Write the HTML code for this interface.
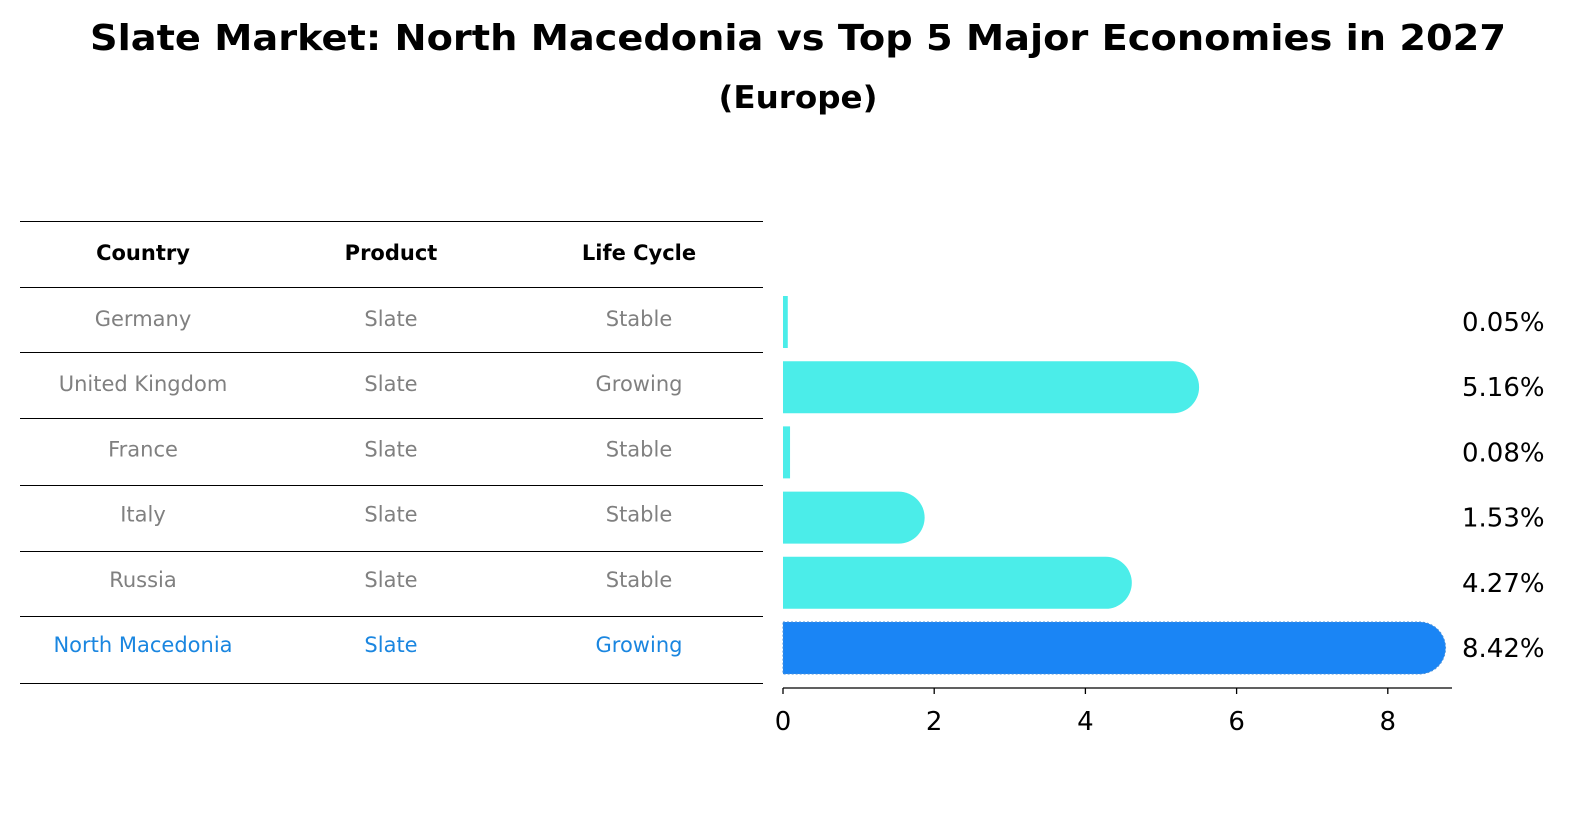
<!DOCTYPE html>
<html><head><meta charset="utf-8"><style>
body{margin:0;background:#fff;font-family:"Liberation Sans","DejaVu Sans",sans-serif;}
svg text{font-family:"DejaVu Sans","Liberation Sans",sans-serif;}
</style></head><body>
<svg id="chart" width="1586" height="823" xmlns="http://www.w3.org/2000/svg">
<text x="798" y="50" text-anchor="middle" font-size="36" font-weight="bold" textLength="1416" lengthAdjust="spacingAndGlyphs">Slate Market: North Macedonia vs Top 5 Major Economies in 2027</text>
<text x="798" y="108" text-anchor="middle" font-size="31" font-weight="bold" textLength="159" lengthAdjust="spacingAndGlyphs">(Europe)</text>
<g id="table"></g>
<g id="bars"></g>
</svg>
<script>
const countries=["Germany","United Kingdom","France","Italy","Russia","North Macedonia"];
const products=["Slate","Slate","Slate","Slate","Slate","Slate"];
const lifeCycles=["Stable","Growing","Stable","Stable","Stable","Growing"];
const values=[0.05,5.16,0.08,1.53,4.27,8.42];
const valueLabels=["0.05%","5.16%","0.08%","1.53%","4.27%","8.42%"];
const xTicks=[0,2,4,6,8];
const NS="http://www.w3.org/2000/svg";
function mk(tag,attrs,parent){const e=document.createElementNS(NS,tag);for(const k in attrs)e.setAttribute(k,attrs[k]);parent.appendChild(e);return e;}
const x=v=>783+v*75.6;
const rowY=i=>320+i*65.2;
const tbl=document.getElementById('table');
const lines=[221,287,352,418,485,551,616,683];
lines.forEach(y=>{const l=mk('line',{x1:20,x2:763,y1:y+0.5,y2:y+0.5,stroke:'#000','stroke-width':1,'shape-rendering':'crispEdges'},tbl);

});
const cols=[143,391,639];
["Country","Product","Life Cycle"].forEach((h,j)=>{const t=mk('text',{x:cols[j],y:260,'text-anchor':'middle','font-size':21,'font-weight':'bold'},tbl);t.textContent=h;

});
countries.forEach((c,i)=>{const hl=i===countries.length-1;const col=hl?'#1a86e0':'#808080';
[c,products[i],lifeCycles[i]].forEach((s,j)=>{const t=mk('text',{x:cols[j],y:rowY(i)+6,'text-anchor':'middle','font-size':21,fill:col},tbl);t.textContent=s;

});});
const g=document.getElementById('bars');
const h=52,r=26;
values.forEach((v,i)=>{const hl=i===values.length-1;const fill=hl?'#1a85f5':'#4bede9';const cy=rowY(i)+2;
const x0=x(0),x1=x(v);let d;
if(v>0.5){d=`M${x0},${cy-h/2} L${x1},${cy-h/2} A${r},${r} 0 0 1 ${x1},${cy+h/2} L${x0},${cy+h/2} Z`;}
else{d=`M${x0},${cy-h/2} L${x0+Math.max(4,x1-x0+1)},${cy-h/2} L${x0+Math.max(4,x1-x0+1)},${cy+h/2} L${x0},${cy+h/2} Z`;}
const p=mk('path',{d:d,fill:fill},g);
if(hl){p.setAttribute('stroke','#4a90d9');p.setAttribute('stroke-dasharray','2,2');p.setAttribute('stroke-width','1');}


const t=mk('text',{x:1462,y:cy+9,'font-size':26},g);t.textContent=valueLabels[i];

});
const ax=mk('line',{x1:783,x2:1452,y1:688,y2:688,stroke:'#000','stroke-width':1.3},g);


xTicks.forEach(tv=>{const tk=mk('line',{x1:x(tv),x2:x(tv),y1:688,y2:694,stroke:'#000','stroke-width':1.3},g);


const t=mk('text',{x:x(tv),y:730,'text-anchor':'middle','font-size':26},g);t.textContent=tv;

});
</script>
</body></html>
